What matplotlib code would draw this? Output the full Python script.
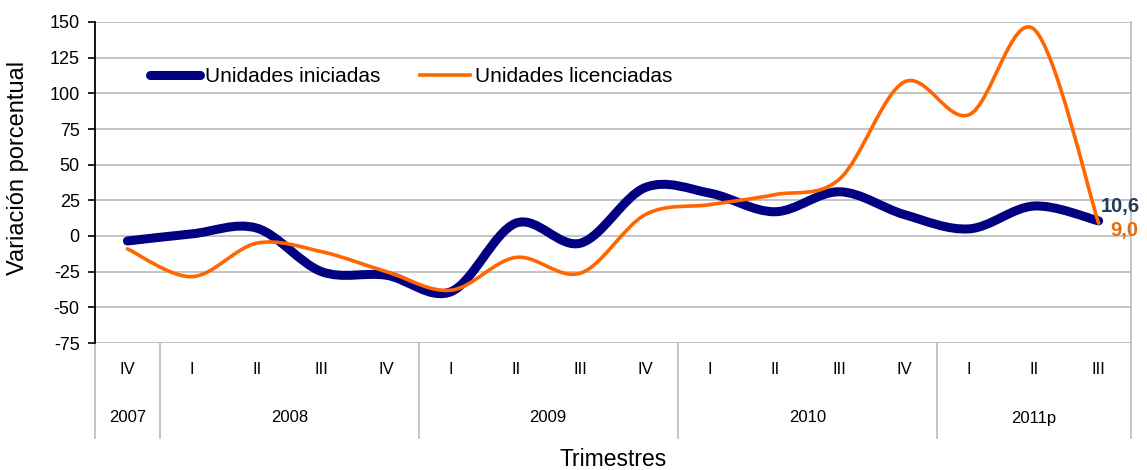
import matplotlib
matplotlib.use("Agg")
import matplotlib.pyplot as plt
import matplotlib.transforms as mtransforms
from matplotlib.path import Path
from matplotlib.patches import PathPatch
import numpy as np

plt.rcParams['font.family'] = ['Liberation Sans', 'DejaVu Sans']

quarters = ["IV", "I", "II", "III", "IV", "I", "II", "III", "IV",
            "I", "II", "III", "IV", "I", "II", "III"]
years = ["2007", "2008", "2009", "2010", "2011p"]
year_counts = [1, 4, 4, 4, 3]
iniciadas = [-3.5, 1.5, 5.5, -25, -27.5, -39, 9, -5, 34, 30, 17, 31, 15, 5, 21, 10.6]
licenciadas = [-9, -28.5, -5, -11, -25, -38, -15, -26, 15, 22, 29, 40, 108, 85, 145, 9.0]
yticks = [-75, -50, -25, 0, 25, 50, 75, 100, 125, 150]

fig = plt.figure(figsize=(11.47, 4.70), dpi=100)
ax = fig.add_axes([95/1147, 1-343/470, (1131-95)/1147, (343-22)/470])

def smooth_path(xs, ys):
    pts = np.column_stack([xs, ys]).astype(float)
    n = len(pts)
    verts = [pts[0]]
    codes = [Path.MOVETO]
    for i in range(n-1):
        p0 = pts[i-1] if i > 0 else pts[i]
        p1 = pts[i]
        p2 = pts[i+1]
        p3 = pts[i+2] if i+2 < n else pts[i+1]
        c1 = p1 + (p2 - p0) / 6.0
        c2 = p2 - (p3 - p1) / 6.0
        verts += [c1, c2, p2]
        codes += [Path.CURVE4]*3
    return Path(verts, codes)

x = np.arange(len(quarters))
p1 = PathPatch(smooth_path(x, iniciadas), facecolor='none', edgecolor='#000080',
               lw=6.5, capstyle='round', joinstyle='round', zorder=3)
p2 = PathPatch(smooth_path(x, licenciadas), facecolor='none', edgecolor='#FF6600',
               lw=2.6, capstyle='round', joinstyle='round', zorder=4)
ax.add_patch(p1)
ax.add_patch(p2)
# legend proxies
l1, = ax.plot([], [], color='#000080', lw=6.5, solid_capstyle='round', label='Unidades iniciadas')
l2, = ax.plot([], [], color='#FF6600', lw=2.6, label='Unidades licenciadas')

ax.set_xlim(-0.5, len(quarters)-0.5)
ax.set_ylim(-75, 150)
ax.set_yticks(yticks)
ax.set_yticklabels([str(v) for v in yticks], fontsize=13)
ax.yaxis.grid(True, color='#BFBFBF', lw=1.3)
ax.set_axisbelow(True)
ax.set_xticks([])
for s in ['top', 'bottom']:
    ax.spines[s].set_visible(False)
ax.spines['right'].set_color('#BFBFBF')
ax.spines['right'].set_linewidth(1.3)
ax.spines['left'].set_color('black')
ax.spines['left'].set_linewidth(1.3)
ax.tick_params(axis='y', direction='out', length=5, width=1.2, pad=6, colors='black')

# bottom line of plot area
ax.axhline(-75, color='#BFBFBF', lw=1.3, zorder=1)

# category table
trans = mtransforms.blended_transform_factory(ax.transData, ax.transAxes)
tbl_bottom = -(438-343)/321
bounds = np.concatenate([[0], np.cumsum(year_counts)]) - 0.5
for b in bounds:
    ax.plot([b, b], [0, tbl_bottom], transform=trans, color='#BFBFBF', lw=1.3,
            clip_on=False, zorder=1)
for i, q in enumerate(quarters):
    ax.text(i, -(370-343)/321, q, transform=trans, ha='center', va='center', fontsize=12)
for j, yname in enumerate(years):
    cx = (bounds[j] + bounds[j+1]) / 2
    ax.text(cx, -(418-343)/321, yname, transform=trans, ha='center', va='center', fontsize=12)

ax.text(0.5, -(460-343)/321, 'Trimestres', transform=ax.transAxes, ha='center',
        va='center', fontsize=16.5)
fig.text(18/1147, 1-168/470, 'Variación porcentual', rotation=90, ha='center',
         va='center', fontsize=17)

# end labels
ax.annotate('10,6', (x[-1], iniciadas[-1]), xytext=(2, 14), textcoords='offset pixels',
            color='#1F3D5C', fontsize=14.5, fontweight='bold', ha='left', va='center',
            annotation_clip=False)
ax.annotate('9,0', (x[-1], licenciadas[-1]), xytext=(12, -7), textcoords='offset pixels',
            color='#E46C0A', fontsize=14.5, fontweight='bold', ha='left', va='center',
            annotation_clip=False)

leg = ax.legend(handles=[l1, l2], loc='center left',
                bbox_to_anchor=((150-95)/1036, (343-77)/321),
                ncol=2, frameon=False, fontsize=15, handlelength=2.4, handletextpad=0.25,
                columnspacing=1.9, borderaxespad=0, borderpad=0)

fig.savefig('out.png', dpi=100)
